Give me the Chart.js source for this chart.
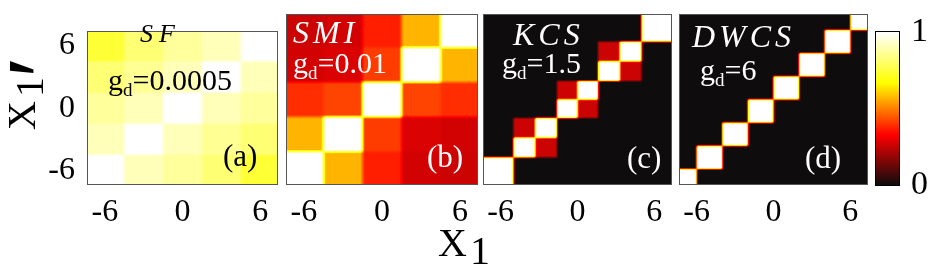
<!DOCTYPE html>
<html>
<head>
<meta charset="utf-8">
<title>Correlation maps</title>
<script src="https://cdn.jsdelivr.net/npm/chart.js@4.4.1/dist/chart.umd.min.js"></script>
<style>
  body { margin: 0; background: #fff; }
  #wrap { position: relative; width: 931px; height: 266px; }
  #wrap canvas { position: absolute; left: 0; top: 0; }
</style>
</head>
<body>
<div id="wrap">
  <canvas id="panelA" width="931" height="266"></canvas>
  <canvas id="panelB" width="931" height="266"></canvas>
  <canvas id="panelC" width="931" height="266"></canvas>
  <canvas id="panelD" width="931" height="266"></canvas>
  <canvas id="colorBar" width="931" height="266"></canvas>
</div>
<script>
// Batas sel (x1 dan x1' memakai batas yang sama)
const edgesSF = [-4.5, -1.5, 1.5, 4.5];
const edgesSMI = [-4.5, -1.5, 1.5, 4.5];
const edgesKCS = [-5, -3.3, -1.6, 0, 1.6, 3.3, 5];
const edgesDWCS = [-6, -4, -2, 0, 2, 4, 6];

// Nilai tiap sel: baris dari bawah (x1' kecil) ke atas, kolom x1 dari kiri ke kanan
const sfValues = [
    [1.00, 0.91, 0.87, 0.82, 0.74],
    [0.91, 1.00, 0.91, 0.86, 0.82],
    [0.87, 0.91, 1.00, 0.91, 0.87],
    [0.82, 0.86, 0.91, 1.00, 0.91],
    [0.74, 0.82, 0.87, 0.91, 1.00]
];
const smiValues = [
    [1.00, 0.57, 0.37, 0.27, 0.26],
    [0.57, 1.00, 0.41, 0.28, 0.27],
    [0.39, 0.42, 1.00, 0.42, 0.39],
    [0.27, 0.28, 0.41, 1.00, 0.57],
    [0.26, 0.27, 0.37, 0.57, 1.00]
];
const kcsValues = [
    [1, 0, 0, 0, 0, 0, 0, 0],
    [0, 1, 0.26, 0, 0, 0, 0, 0],
    [0, 0.26, 1, 0, 0, 0, 0, 0],
    [0, 0, 0, 1, 0.26, 0, 0, 0],
    [0, 0, 0, 0.26, 1, 0, 0, 0],
    [0, 0, 0, 0, 0, 1, 0.26, 0],
    [0, 0, 0, 0, 0, 0.26, 1, 0],
    [0, 0, 0, 0, 0, 0, 0, 1]
];
const dwcsValues = [
    [1, 0, 0, 0, 0, 0, 0, 0],
    [0, 1, 0, 0, 0, 0, 0, 0],
    [0, 0, 1, 0, 0, 0, 0, 0],
    [0, 0, 0, 1, 0, 0, 0, 0],
    [0, 0, 0, 0, 1, 0, 0, 0],
    [0, 0, 0, 0, 0, 1, 0, 0],
    [0, 0, 0, 0, 0, 0, 1, 0],
    [0, 0, 0, 0, 0, 0, 0, 1]
];

const axisTicks = [-6, 0, 6];
const colorBarTicks = [0, 1];
const axisRange = 7.3;

const serif = "'Liberation Serif', 'Times New Roman', serif";

// Peta warna "hot": hitam -> merah -> kuning -> putih
const hotStops = [
    [0.00, [14, 12, 12]],
    [0.33, [255, 0, 0]],
    [0.67, [255, 255, 0]],
    [1.00, [255, 255, 255]]
];

function hotColor(v) {
    v = Math.min(1, Math.max(0, v));
    for (let i = 1; i < hotStops.length; i++) {
        const [v1, c1] = hotStops[i];
        if (v <= v1) {
            const [v0, c0] = hotStops[i - 1];
            const t = (v - v0) / (v1 - v0);
            return [0, 1, 2].map(k => Math.round(c0[k] + (c1[k] - c0[k]) * t));
        }
    }
    return hotStops[hotStops.length - 1][1];
}

// Bobot tiap sel di posisi v, tepi sel dihaluskan selebar "soft"
function cellWeights(edges, v, soft) {
    const w = [];
    let prev = 1;
    for (let i = 0; i <= edges.length; i++) {
        const next = i < edges.length ? Math.min(1, Math.max(0, (v - edges[i]) / soft + 0.5)) : 0;
        w.push(prev - next);
        prev = next;
    }
    return w;
}

// Plugin untuk menggambar peta panas lewat skala Chart.js
const heatPlugin = {
    id: 'heat',
    beforeDatasetsDraw(chart, args, opts) {
        const ctx = chart.ctx;
        const area = chart.chartArea;
        const xs = chart.scales.x, ys = chart.scales.y;
        const left = Math.round(area.left), top = Math.round(area.top);
        const w = Math.round(area.right) - left, h = Math.round(area.bottom) - top;
        const off = document.createElement('canvas');
        off.width = w; off.height = h;
        const octx = off.getContext('2d');
        const img = octx.createImageData(w, h);

        const colW = [];
        for (let px = 0; px < w; px++) {
            colW.push(opts.gradient ? null : cellWeights(opts.edges, xs.getValueForPixel(left + px + 0.5), opts.soft));
        }
        for (let py = 0; py < h; py++) {
            const vy = ys.getValueForPixel(top + py + 0.5);
            const rowW = opts.gradient ? null : cellWeights(opts.edges, vy, opts.soft);
            for (let px = 0; px < w; px++) {
                let v = 0;
                if (opts.gradient) {
                    v = vy;
                } else {
                    for (let j = 0; j < rowW.length; j++) {
                        if (rowW[j] === 0) continue;
                        const row = opts.values[j];
                        for (let i = 0; i < colW[px].length; i++) {
                            if (colW[px][i] === 0) continue;
                            v += rowW[j] * colW[px][i] * row[i];
                        }
                    }
                }
                const c = hotColor(v);
                const k = (py * w + px) * 4;
                img.data[k] = c[0]; img.data[k + 1] = c[1]; img.data[k + 2] = c[2]; img.data[k + 3] = 255;
            }
        }
        octx.putImageData(img, 0, 0);
        ctx.drawImage(off, left, top);
    },
    afterDraw(chart, args, opts) {
        const ctx = chart.ctx;
        const a = chart.chartArea;
        ctx.save();
        ctx.strokeStyle = opts.borderColor || '#555';
        ctx.lineWidth = 1;
        ctx.strokeRect(Math.round(a.left) - 0.5, Math.round(a.top) - 0.5,
            Math.round(a.right) - Math.round(a.left) + 1, Math.round(a.bottom) - Math.round(a.top) + 1);
        ctx.restore();

        (opts.texts || []).forEach(t => drawRuns(ctx, t.x, t.y, t.runs, t.color, t.spacing || 0));
    }
};

// Menulis teks per potongan (untuk subskrip dan huruf miring berjarak)
function drawRuns(ctx, x, y, runs, color, spacing) {
    ctx.save();
    ctx.fillStyle = color;
    ctx.textBaseline = 'alphabetic';
    ctx.textAlign = 'left';
    let cx = x;
    runs.forEach(r => {
        ctx.font = (r.style || '') + ' ' + r.size + 'px ' + serif;
        for (const ch of r.t) {
            ctx.fillText(ch, cx, y + (r.dy || 0));
            cx += ctx.measureText(ch).width + spacing;
        }
    });
    ctx.restore();
}

function gdRuns(val) {
    return [
        { t: 'g', size: 30 },
        { t: 'd', size: 19, dy: 6 },
        { t: '=' + val, size: 30 }
    ];
}

// Judul sumbu x1 dan x1' untuk seluruh gambar
const axisTitlePlugin = {
    id: 'axisTitles',
    afterDraw(chart) {
        const ctx = chart.ctx;
        ctx.save();
        ctx.fillStyle = '#000';
        ctx.textBaseline = 'alphabetic';
        ctx.textAlign = 'left';
        // sumbu bawah
        ctx.font = '40px ' + serif;
        ctx.fillText('X', 438, 256);
        ctx.fillText('1', 470, 264);
        // sumbu kiri (diputar)
        ctx.translate(35, 130);
        ctx.rotate(-Math.PI / 2);
        ctx.font = '40px ' + serif;
        ctx.fillText('X', 0, 0);
        ctx.fillText('1', 33, 8);
        ctx.font = '100px ' + serif;
        ctx.fillText('\u2032', 52, 40);
        ctx.restore();
    }
};

const tickFont = { family: serif, size: 32 };

function makePanel(id, cfg) {
    const showY = !!cfg.showY;
    return new Chart(document.getElementById(id), {
        type: 'scatter',
        data: { datasets: [{ data: [], pointRadius: 0 }] },
        options: {
            responsive: false,
            animation: false,
            devicePixelRatio: 1,
            layout: { padding: { left: showY ? 0 : cfg.left, right: 931 - cfg.right, top: 15, bottom: 0 } },
            plugins: {
                legend: { display: false },
                tooltip: { enabled: false },
                heat: { edges: cfg.edges, values: cfg.values, soft: cfg.soft, texts: cfg.texts }
            },
            scales: {
                x: {
                    type: 'linear', min: -axisRange, max: axisRange,
                    grid: { display: false, drawTicks: false },
                    border: { display: false },
                    ticks: { font: tickFont, color: '#000', padding: 9, maxRotation: 0, autoSkip: false },
                    afterBuildTicks: s => { s.ticks = axisTicks.map(v => ({ value: v })); },
                    afterFit: s => { s.height = 266 - 184; }
                },
                y: {
                    type: 'linear', min: -axisRange, max: axisRange,
                    display: showY,
                    grid: { display: false, drawTicks: false },
                    border: { display: false },
                    ticks: { font: tickFont, color: '#000', padding: 13, autoSkip: false },
                    afterBuildTicks: s => { s.ticks = axisTicks.map(v => ({ value: v })); },
                    afterFit: s => { if (showY) s.width = cfg.left; }
                }
            }
        },
        plugins: cfg.extra ? [heatPlugin, cfg.extra] : [heatPlugin]
    });
}

makePanel('panelA', {
    showY: true, left: 88, right: 277, edges: edgesSF, values: sfValues, soft: 0.35,
    extra: axisTitlePlugin,
    texts: [
        { x: 140, y: 42, color: '#000', spacing: 6, runs: [{ t: 'SF', size: 26, style: 'italic' }] },
        { x: 108, y: 90, color: '#000', runs: gdRuns('0.0005') },
        { x: 223, y: 166, color: '#000', runs: [{ t: '(a)', size: 31 }] }
    ]
});
makePanel('panelB', {
    left: 287, right: 477, edges: edgesSMI, values: smiValues, soft: 0.35,
    texts: [
        { x: 293, y: 43, color: '#fff', spacing: 4, runs: [{ t: 'SMI', size: 32, style: 'italic' }] },
        { x: 293, y: 73, color: '#fff', runs: gdRuns('0.01') },
        { x: 427, y: 167, color: '#fff', runs: [{ t: '(b)', size: 31 }] }
    ]
});
makePanel('panelC', {
    left: 484, right: 671, edges: edgesKCS, values: kcsValues, soft: 0.25,
    texts: [
        { x: 513, y: 45, color: '#fff', spacing: 4, runs: [{ t: 'KCS', size: 32, style: 'italic' }] },
        { x: 502, y: 73, color: '#fff', runs: gdRuns('1.5') },
        { x: 627, y: 168, color: '#fff', runs: [{ t: '(c)', size: 31 }] }
    ]
});
makePanel('panelD', {
    left: 680, right: 867, edges: edgesDWCS, values: dwcsValues, soft: 0.25,
    texts: [
        { x: 692, y: 47, color: '#fff', spacing: 4, runs: [{ t: 'DWCS', size: 32, style: 'italic' }] },
        { x: 700, y: 80, color: '#fff', runs: gdRuns('6') },
        { x: 805, y: 168, color: '#fff', runs: [{ t: '(d)', size: 31 }] }
    ]
});

// Batang warna di sebelah kanan
new Chart(document.getElementById('colorBar'), {
    type: 'scatter',
    data: { datasets: [{ data: [], pointRadius: 0 }] },
    options: {
        responsive: false,
        animation: false,
        devicePixelRatio: 1,
        layout: { padding: { left: 876, right: 0, top: 14, bottom: 266 - 185 } },
        plugins: {
            legend: { display: false },
            tooltip: { enabled: false },
            heat: { gradient: true, borderColor: '#000' }
        },
        scales: {
            x: { type: 'linear', min: 0, max: 1, display: false },
            y: {
                type: 'linear', min: 0, max: 1, position: 'right',
                grid: { display: false, drawTicks: false },
                border: { display: false },
                ticks: { font: { family: serif, size: 34 }, color: '#000', padding: 12, autoSkip: false },
                afterBuildTicks: s => { s.ticks = colorBarTicks.map(v => ({ value: v })); },
                afterFit: s => { s.width = 931 - 899; }
            }
        }
    },
    plugins: [heatPlugin]
});
</script>
</body>
</html>
